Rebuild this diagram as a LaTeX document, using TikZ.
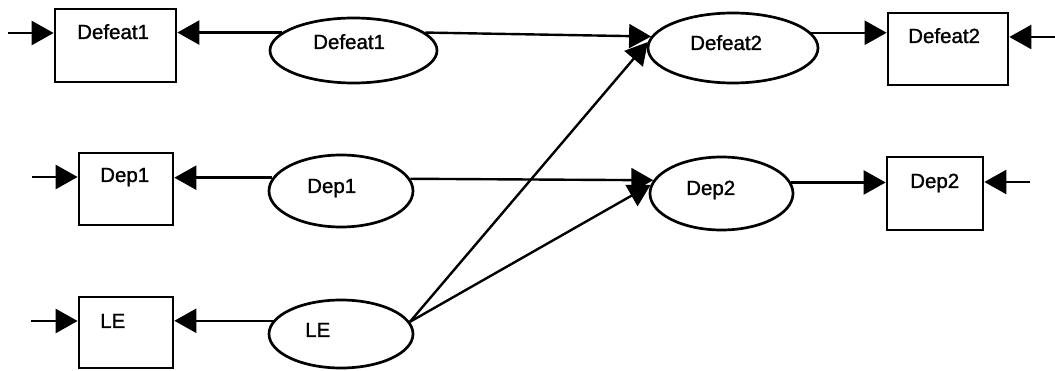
\documentclass[tikz,border=0pt]{standalone}
\usepackage{fontspec}
\setmainfont{Liberation Sans}[FakeBold=1.2]
\usetikzlibrary{arrows.meta,shapes.geometric}
\begin{document}
\begin{tikzpicture}[x=1pt,y=-1pt,
  statebox/.style={draw,line width=2.7pt,rectangle,inner sep=0pt},
  stateell/.style={draw,line width=2.7pt,ellipse,inner sep=0pt},
  lbl/.style={anchor=base west,inner sep=0pt,font=\fontsize{20.5}{24}\selectfont},
  arr/.style={line width=2.4pt,-{Triangle[length=22pt,width=24pt]}}]
\useasboundingbox (0,0) rectangle (1055,371);

% left boxes
\node[statebox,minimum width=121pt,minimum height=73pt] (bdef1) at (115.5,45.5) {};
\node[statebox,minimum width=94pt,minimum height=72pt] (bdep1) at (126,189) {};
\node[statebox,minimum width=94pt,minimum height=71pt] (ble) at (126,332.5) {};
\node[lbl] (tbdef1) at (77,39) {Defeat1};
\node[lbl] (tbdep1) at (100,182) {Dep1};
\node[lbl] (tble) at (100,328) {LE};

% left ellipses
\node[stateell,minimum width=167pt,minimum height=65pt] (edef1) at (353.5,50.5) {};
\node[stateell,minimum width=144pt,minimum height=72pt] (edep1) at (341,191) {};
\node[stateell,minimum width=144pt,minimum height=68pt] (ele) at (341,334) {};
\node[lbl] (tedef1) at (313,49) {Defeat1};
\node[lbl] (tedep1) at (307,193) {Dep1};
\node[lbl] (tele) at (305,337) {LE};

% right ellipses
\node[stateell,minimum width=170pt,minimum height=70pt] (edef2) at (733,48) {};
\node[stateell,minimum width=143pt,minimum height=73pt] (edep2) at (721.5,193.5) {};
\node[lbl] (tedef2) at (690,50) {Defeat2};
\node[lbl] (tedep2) at (686,195) {Dep2};

% right boxes
\node[statebox,minimum width=120pt,minimum height=72pt] (bdef2) at (948,49) {};
\node[statebox,minimum width=96pt,minimum height=73pt] (bdep2) at (935,193.5) {};
\node[lbl] (tbdef2) at (908,43) {Defeat2};
\node[lbl] (tbdep2) at (910,188) {Dep2};

% free ends of the incoming arrows
\coordinate (indef1) at (8,33);
\coordinate (indep1) at (32,177);
\coordinate (inle) at (31,321);
\coordinate (indef2) at (1055,37);
\coordinate (indep2) at (1030,182);

% inputs to the boxes
\draw[arr] (indef1) -- (indef1 -| bdef1.west);
\draw[arr] (indep1) -- (indep1 -| bdep1.west);
\draw[arr] (inle) -- (inle -| ble.west);
\draw[arr] (indef2) -- (indef2 -| bdef2.east);
\draw[arr] (indep2) -- (indep2 -| bdep2.east);

% ellipses to left boxes
\draw[arr] (edef1.166) -- (edef1.166 -| bdef1.east);
\draw[arr] (edep1.169) -- (edep1.169 -| bdep1.east);
\draw[arr] (ele.169) -- (ele.169 -| ble.east);

% ellipses to right boxes
\draw[arr] (edef2.11) -- (edef2.11 -| bdef2.west);
\draw[arr] (edep2.9.6) -- (edep2.9.6 -| bdep2.west);

% links between the ellipse columns
\draw[arr] (edef1.14) -- (edef2.172);
\draw[arr] (edep1.10) -- (edep2.169.5);
\draw[arr] (ele.10) -- (edef2.176);
\draw[arr] (ele.10) -- (edep2.173.5);
\end{tikzpicture}
\end{document}
